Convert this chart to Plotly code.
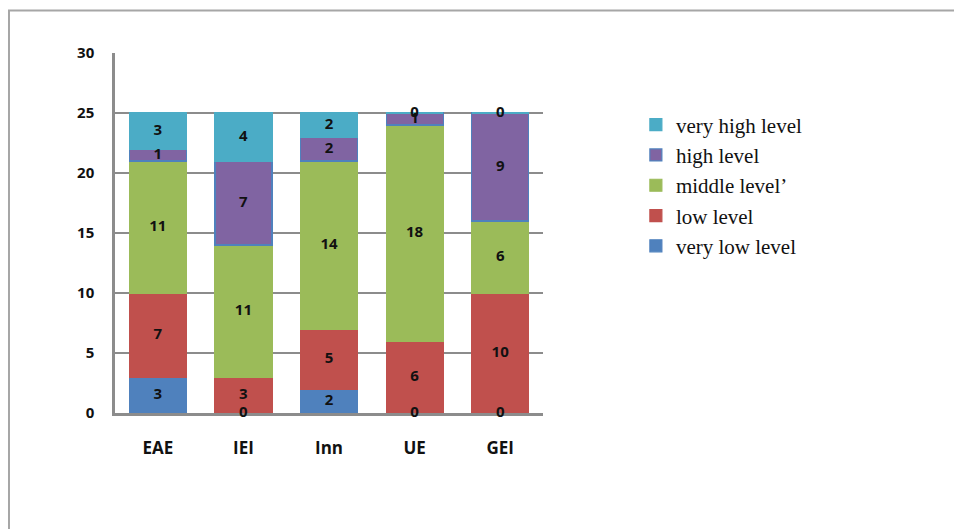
import numpy as np
import plotly.graph_objects as go

categories = ["EAE", "IEI", "Inn", "UE", "GEI"]
series_names = ["very low level", "low level", "middle level’", "high level", "very high level"]
very_low = [3, 0, 2, 0, 0]
low = [7, 3, 5, 6, 10]
middle = [11, 11, 14, 18, 6]
high = [1, 7, 2, 1, 9]
very_high = [3, 4, 2, 0, 0]
y_ticks = [0, 5, 10, 15, 20, 25, 30]

colors = ["#4F81BD", "#C0504D", "#9BBB59", "#8064A2", "#4BACC6"]
outline = ["#4F81BD", "#C0504D", "#9BBB59", "#4F81BD", "#4BACC6"]
series = [very_low, low, middle, high, very_high]

fig = go.Figure()
for name, vals, c, oc in zip(series_names, series, colors, outline):
    fig.add_trace(go.Bar(
        x=categories, y=vals, name=name,
        marker=dict(color=c, line=dict(color=oc, width=1.2)),
    ))

# data labels at segment centres
base = np.zeros(len(categories))
lab_x, lab_y, lab_t = [], [], []
for vals in series:
    v = np.array(vals, dtype=float)
    mids = base + v / 2
    for cat, m, val in zip(categories, mids, vals):
        lab_x.append(cat); lab_y.append(m); lab_t.append(str(val))
    base = base + v
fig.add_trace(go.Scatter(
    x=lab_x, y=lab_y, text=lab_t, mode="text", showlegend=False,
    cliponaxis=False,
    textfont=dict(family="Open Sans", size=15, color="#111111", weight="bold"),
    hoverinfo="skip",
))

fig.update_layout(
    width=954, height=521,
    barmode="stack", bargap=0.334,
    paper_bgcolor="white", plot_bgcolor="white",
    margin=dict(l=107, r=419, t=45, b=116),
    showlegend=True,
    legend=dict(
        x=1.217, y=0.857, xanchor="left", yanchor="top",
        traceorder="reversed",
        font=dict(family="Liberation Serif", size=21, color="#111111"),
        itemwidth=30, tracegroupgap=0,
    ),
    shapes=[dict(
        type="path", xref="paper", yref="paper",
        path="M -0.2477,-0.5 L -0.2477,1.118 L 2.2,1.118",
        line=dict(color="#A6A6A6", width=2),
    )],
)
fig.update_yaxes(
    range=[0, 30], tickvals=y_ticks,
    showgrid=True, gridcolor="#8C8C8C", gridwidth=1.5,
    showline=True, linecolor="#8C8C8C", linewidth=2.5,
    zeroline=False, ticks="", ticklabelstandoff=15,
    tickfont=dict(family="Open Sans", size=15, color="#111111", weight="bold"),
)
fig.update_xaxes(
    showline=True, linecolor="#8C8C8C", linewidth=2.5, layer="below traces",
    showgrid=False, ticks="", ticklabelstandoff=18,
    tickfont=dict(family="Open Sans", size=17, color="#111111", weight="bold"),
)

fig.write_html("out.html")
